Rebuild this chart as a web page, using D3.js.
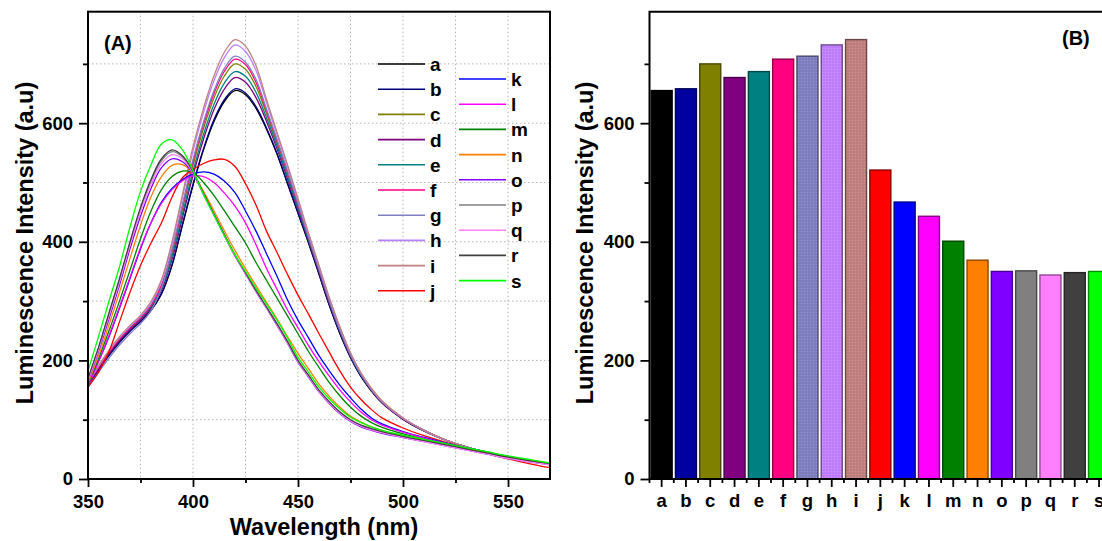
<!DOCTYPE html>
<html>
<head>
<meta charset="utf-8">
<script src="https://cdn.jsdelivr.net/npm/d3@7"></script>
<style>
  html, body { margin: 0; padding: 0; background: #fff; }
  svg { display: block; }
  text { font-family: "Liberation Sans", Arial, sans-serif; font-weight: bold; fill: #000; }
</style>
</head>
<body>
<svg id="chart" width="1102" height="541"></svg>
<script>
// Emission wavelengths (nm) shared by every spectrum
const wavelengths = [350,355,360,365,370,375,380,385,390,395,400,405,410,415,420,425,430,435,440,445,450,455,460,465,470,475,480,485,490,500,510,520,530,540,550,560,570];

// Emission spectra, one array per sample (a.u.)
const specA = [158,185,210,232,250,266,285,312,360,428,495,555,603,637,655,648,625,590,548,498,448,398,345,292,245,205,173,148,128,101,81,66,54,45,37,31,26];
const specB = [156,183,208,230,249,265,284,313,361,430,497,557,606,640,658,651,628,592,549,499,449,399,346,292,245,205,173,149,129,101,81,66,54,45,37,31,26];
const specC = [160,188,214,236,254,270,290,324,381,455,529,591,643,680,700,691,662,616,567,515,461,407,353,299,251,209,176,150,130,102,82,66,54,45,37,31,26];
const specD = [159,186,212,234,252,268,288,318,370,441,512,573,623,658,677,669,643,603,557,506,454,402,349,295,248,207,175,149,129,101,82,66,54,45,37,31,26];
const specE = [161,189,215,237,255,271,291,321,375,447,519,581,632,668,687,679,652,609,562,510,457,404,351,297,249,208,175,150,130,102,82,66,54,45,37,31,26];
const specF = [160,188,214,236,255,272,293,327,385,460,535,598,650,688,708,699,669,621,571,518,463,408,354,300,252,210,177,151,130,102,82,66,54,45,37,31,26];
const specG = [155,180,204,226,245,262,284,322,387,463,539,602,655,693,713,703,674,624,573,520,465,409,355,301,252,210,177,151,130,102,82,66,54,45,37,31,26];
const specH = [162,190,216,238,257,274,296,333,396,475,553,618,672,711,732,721,689,635,581,527,470,413,358,304,255,212,178,152,131,103,82,66,54,45,37,31,26];
const specI = [163,191,217,240,259,276,299,336,400,480,560,625,680,720,741,730,697,640,585,530,473,415,360,305,256,213,179,153,132,103,82,66,54,45,37,31,26];
const specJ = [155,180,215,265,315,360,398,432,475,508,522,532,538,539,527,498,462,418,382,345,310,278,245,213,182,155,134,117,103,86,73,62,52,43,34,26,19];
const specK = [160,198,240,288,338,388,432,467,490,505,514,518,514,502,483,452,418,380,342,302,268,238,208,182,158,137,118,103,93,80,70,61,53,45,38,31,26];
const specL = [158,198,242,290,340,390,432,465,488,503,511,510,500,482,460,432,395,355,320,285,255,225,198,173,150,130,113,100,91,79,69,60,52,45,38,31,26];
const specM = [160,203,250,300,352,405,452,488,510,519,517,500,478,452,425,398,365,335,305,275,245,215,188,162,140,121,106,95,87,76,67,59,52,45,38,31,26];
const specN = [162,208,260,315,372,428,476,510,529,530,515,485,452,418,385,355,326,298,270,240,212,186,160,139,121,106,96,88,82,73,65,58,51,44,37,31,26];
const specO = [165,215,270,327,388,443,490,525,540,535,515,480,445,410,376,346,316,288,259,229,197,172,147,127,110,97,88,82,77,70,63,56,49,42,35,29,24];
const specP = [168,220,278,335,398,455,502,537,552,543,517,481,446,411,377,347,317,289,261,231,199,174,149,129,112,99,90,84,79,71,64,57,50,43,36,30,25];
const specQ = [166,218,275,332,394,450,497,532,547,540,516,480,445,410,376,346,316,288,260,230,198,173,148,128,111,98,89,83,78,70,63,56,49,42,35,29,24];
const specR = [170,222,280,338,400,458,505,540,555,545,518,482,447,412,378,348,318,290,262,232,200,175,150,130,113,100,91,85,80,72,65,58,51,44,37,31,26];
const specS = [182,240,300,358,425,485,530,565,572,555,520,480,445,410,378,350,322,295,268,238,205,180,155,135,118,104,95,88,82,74,67,60,53,46,39,33,27];

// Sample labels and intensity read at the emission maximum
const samples = ["a","b","c","d","e","f","g","h","i","j","k","l","m","n","o","p","q","r","s"];
const barValues = [655,658,700,677,687,708,713,732,741,521,467,443,401,369,350,351,344,348,350];

// Axis ticks
const xTicksA = [350,400,450,500,550];
const xMinorA = [375,425,475,525];
const yTicks = [0,200,400,600];
const yMinor = [100,300,500,700];

// Colours
const lineColors = ["#000000","#000080","#808000","#800080","#008080","#FF0080","#8080C0","#B880FF","#C08080",
                    "#FF0000","#0000FF","#FF00FF","#008000","#FF8000","#8000FF","#808080","#FF80FF","#404040","#00FF00"];
const barColors  = ["#000000","#0000A0","#808000","#800080","#008080","#FF0080","#8080C0","#C080FF","#C08080",
                    "#FF0000","#0000FF","#FF00FF","#008000","#FF8000","#8000FF","#808080","#FF80FF","#404040","#00FF00"];

const spectra = [specA,specB,specC,specD,specE,specF,specG,specH,specI,specJ,specK,specL,specM,specN,specO,specP,specQ,specR,specS];

const svg = d3.select("#chart");
svg.append("rect").attr("width",1102).attr("height",541).attr("fill","#fff");

// ---------- Panel A: emission spectra ----------
const A = { left: 88, right: 550, top: 11.7, bottom: 479 };
const xA = d3.scaleLinear().domain([350,570]).range([A.left, A.right]);
const yA = d3.scaleLinear().domain([0,788]).range([A.bottom, A.top]);

const gA = svg.append("g");
const grid = gA.append("g").attr("stroke","#b4b4b4").attr("stroke-width",1).attr("stroke-dasharray","1.5,2.5");
d3.range(375, 570, 25).forEach(v => {
  grid.append("line").attr("x1",xA(v)).attr("x2",xA(v)).attr("y1",A.top).attr("y2",A.bottom);
});
d3.range(100, 788, 100).forEach(v => {
  grid.append("line").attr("x1",A.left).attr("x2",A.right).attr("y1",yA(v)).attr("y2",yA(v));
});

const clip = svg.append("defs").append("clipPath").attr("id","clipA");
clip.append("rect").attr("x",A.left).attr("y",A.top).attr("width",A.right-A.left).attr("height",A.bottom-A.top);

const line = d3.line()
  .x((d,i) => xA(wavelengths[i]))
  .y(d => yA(d))
  .curve(d3.curveCatmullRom.alpha(0.5));

const curves = gA.append("g").attr("clip-path","url(#clipA)");
spectra.forEach((s, k) => {
  curves.append("path").datum(s)
    .attr("d", line)
    .attr("fill","none")
    .attr("stroke", lineColors[k])
    .attr("stroke-width", 1.3);
});

// axes A
function styleAxis(g) {
  g.select(".domain").remove();
  g.selectAll(".tick line").attr("stroke","#000").attr("stroke-width",1.8);
  g.selectAll(".tick text").attr("font-size","18.5px").attr("font-family","'Liberation Sans', Arial, sans-serif").attr("font-weight","bold").attr("fill","#000");
}
gA.append("g").attr("transform",`translate(0,${A.bottom})`)
  .call(d3.axisBottom(xA).tickValues(xTicksA).tickSize(8).tickPadding(8).tickFormat(d3.format("d")))
  .call(styleAxis);
gA.append("g").attr("transform",`translate(0,${A.bottom})`)
  .call(d3.axisBottom(xA).tickValues(xMinorA).tickSize(4).tickFormat(""))
  .call(styleAxis);
gA.append("g").attr("transform",`translate(${A.left},0)`)
  .call(d3.axisLeft(yA).tickValues(yTicks).tickSize(9).tickPadding(6).tickFormat(d3.format("d")))
  .call(styleAxis);
gA.append("g").attr("transform",`translate(${A.left},0)`)
  .call(d3.axisLeft(yA).tickValues(yMinor).tickSize(5).tickFormat(""))
  .call(styleAxis);

gA.append("rect").attr("x",A.left).attr("y",A.top).attr("width",A.right-A.left).attr("height",A.bottom-A.top)
  .attr("fill","none").attr("stroke","#000").attr("stroke-width",2);

gA.append("text").attr("x",104).attr("y",50).attr("font-size","20px").text("(A)");
gA.append("text").attr("x",324).attr("y",535).attr("text-anchor","middle").attr("font-size","23.5px").text("Wavelength (nm)");
gA.append("text").attr("transform","translate(33,243) rotate(-90)").attr("text-anchor","middle").attr("font-size","23.5px")
  .text("Luminescence Intensity (a.u)");

// legend, two columns
const legend = gA.append("g");
samples.forEach((name, k) => {
  const col = k < 10 ? 0 : 1;
  const row = col === 0 ? k : k - 10;
  const x0 = col === 0 ? 378 : 459;
  const y0 = (col === 0 ? 64 : 79) + row * 25.2;
  legend.append("line").attr("x1",x0).attr("x2",x0+47).attr("y1",y0).attr("y2",y0)
    .attr("stroke", lineColors[k]).attr("stroke-width",1.6);
  legend.append("text").attr("x",x0+52).attr("y",y0+7).attr("font-size","19px").text(name);
});

// ---------- Panel B: intensity bars ----------
const B = { left: 649.5, right: 1111.2, top: 11.7, bottom: 479 };
const xB = d3.scaleBand().domain(samples).range([B.left, B.right]).paddingInner(0.136).paddingOuter(0.068);
const yB = d3.scaleLinear().domain([0,788]).range([B.bottom, B.top]);
const gB = svg.append("g");

// fine dot texture used on some bars
const defs = svg.select("defs");
[6,7,8].forEach(k => {
  const pat = defs.append("pattern").attr("id","tex"+k).attr("patternUnits","userSpaceOnUse").attr("width",3).attr("height",3);
  pat.append("rect").attr("width",3).attr("height",3).attr("fill",barColors[k]);
  pat.append("rect").attr("x",0).attr("y",0).attr("width",1).attr("height",1).attr("fill",d3.color(barColors[k]).brighter(0.35));
  pat.append("rect").attr("x",1.5).attr("y",1.5).attr("width",1).attr("height",1).attr("fill",d3.color(barColors[k]).darker(0.25));
});

gB.selectAll("rect.bar").data(barValues).join("rect")
  .attr("class","bar")
  .attr("x",(d,i) => xB(samples[i]))
  .attr("y",d => yB(d))
  .attr("width",xB.bandwidth())
  .attr("height",d => yB(0) - yB(d))
  .attr("fill",(d,i) => (i >= 6 && i <= 8) ? `url(#tex${i})` : barColors[i])
  .attr("stroke",(d,i) => d3.color(barColors[i]).darker(1.6))
  .attr("stroke-width",1.4);

const catAxis = d3.axisBottom(xB).tickSize(8).tickPadding(7);
gB.append("g").attr("transform",`translate(0,${B.bottom})`).call(catAxis).call(styleAxis);
// boundary ticks between categories
const step = xB.step();
const boundaries = d3.range(samples.length + 1).map(i => B.left + i * step);
gB.append("g").selectAll("line").data(boundaries).join("line")
  .attr("x1",d => d).attr("x2",d => d).attr("y1",B.bottom).attr("y2",B.bottom + 4)
  .attr("stroke","#000").attr("stroke-width",1.8);

gB.append("g").attr("transform",`translate(${B.left},0)`)
  .call(d3.axisLeft(yB).tickValues(yTicks).tickSize(9).tickPadding(6).tickFormat(d3.format("d")))
  .call(styleAxis);
gB.append("g").attr("transform",`translate(${B.left},0)`)
  .call(d3.axisLeft(yB).tickValues(yMinor).tickSize(5).tickFormat(""))
  .call(styleAxis);

gB.append("path")
  .attr("d",`M${B.right},${B.top}H${B.left}V${B.bottom}H${B.right}`)
  .attr("fill","none").attr("stroke","#000").attr("stroke-width",2);

gB.append("text").attr("x",1062).attr("y",45).attr("font-size","20px").text("(B)");
gB.append("text").attr("transform","translate(593,243) rotate(-90)").attr("text-anchor","middle").attr("font-size","23.5px")
  .text("Luminescence Intensity (a.u)");
</script>
</body>
</html>
